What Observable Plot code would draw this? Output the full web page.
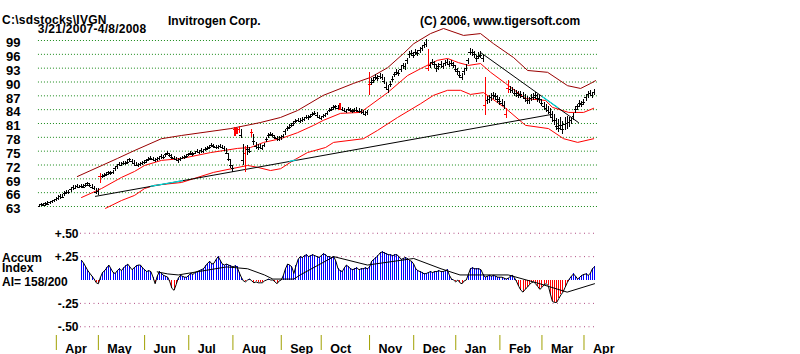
<!DOCTYPE html>
<html><head><meta charset="utf-8">
<script src="https://cdn.jsdelivr.net/npm/d3@7"></script>
<script src="https://cdn.jsdelivr.net/npm/@observablehq/plot@0.6"></script>
<style>
body{margin:0;background:#fff;width:800px;height:354px;overflow:hidden;position:relative;font-family:"Liberation Sans",Arial,sans-serif;}
.t{position:absolute;white-space:pre;font-weight:bold;color:#000;line-height:10px;}
#price,#ai{position:absolute;left:0;}
#price{top:0;}#ai{top:215px;}
</style></head><body>
<div class="t" style="left:2px;top:15.5px;font-size:12px;line-height:9.5px;letter-spacing:0.25px">C:\sdstocks\IVGN
          3/21/2007-4/8/2008</div>
<div class="t" style="left:168px;top:16px;font-size:12px">Invitrogen Corp.</div>
<div class="t" style="left:420px;top:16px;font-size:12px">(C) 2006, www.tigersoft.com</div>
<div class="t" style="left:2px;top:253.3px;font-size:12px;line-height:10px">Accum
Index</div>
<div class="t" style="left:2px;top:276.8px;font-size:12px;line-height:10px">AI= 158/200</div>
<div id="price"></div>
<div id="ai"></div>
<script>
// ---- price bars (one per trading day, 3/21/2007 .. 4/8/2008) ----
const cl = [
63.1,63.4,63.2,63.6,63.5,63.8,64.0,64.3,64.6,64.8,
65.2,65.0,65.8,66.0,66.1,66.6,67.2,67.0,67.3,67.1,
67.4,67.2,67.6,67.9,67.5,67.2,66.8,66.0,66.3,69.6,
69.5,69.8,69.9,70.3,70.1,70.4,71.3,71.6,72.2,72.0,
72.4,72.3,72.6,73.1,72.8,72.4,72.0,71.8,72.1,72.4,
72.6,72.9,73.2,73.5,73.3,73.0,73.2,73.4,73.8,73.6,
74.2,74.6,74.1,73.7,73.5,73.3,72.9,73.2,73.5,73.7,
73.9,74.2,74.5,74.3,74.6,74.9,74.7,75.1,75.0,75.4,
75.6,75.9,76.2,76.0,75.7,75.9,76.1,75.8,75.5,74.6,
73.2,71.8,71.2,79.6,79.2,79.8,78.4,73.0,74.5,75.4,
75.0,79.0,77.0,76.0,75.8,75.9,75.6,76.2,77.6,78.4,
78.6,78.4,78.0,77.7,77.6,77.9,78.2,79.2,79.9,80.2,
80.6,80.9,81.4,81.7,81.5,81.7,81.9,82.3,82.2,82.6,
83.0,83.2,82.8,82.3,82.1,82.6,82.7,83.2,83.8,84.0,
84.4,84.6,84.3,84.0,84.0,83.8,83.6,84.0,83.9,83.6,
83.8,83.9,83.7,83.5,83.4,83.0,83.3,89.5,90.0,90.4,
91.0,90.8,91.2,91.0,90.2,88.9,88.4,89.5,90.6,91.6,
92.1,91.8,92.8,93.5,93.3,94.6,96.0,96.2,95.8,96.4,
96.2,96.8,97.3,97.9,98.2,93.0,93.6,94.2,93.8,93.0,
93.3,93.7,93.4,94.0,94.2,93.8,94.0,93.6,92.8,92.2,
91.4,91.0,92.2,93.0,94.6,96.5,96.4,96.0,95.0,95.6,
95.8,95.0,85.0,86.0,86.2,86.6,87.0,86.8,86.2,85.8,
85.4,84.9,83.0,88.6,88.4,88.2,87.6,87.4,87.1,87.3,
86.9,86.4,86.0,85.9,86.5,86.7,87.0,86.4,86.2,85.4,
84.6,84.2,83.8,83.4,82.3,81.6,80.3,80.0,80.6,79.6,
80.8,81.0,81.2,81.6,82.5,84.0,84.6,85.3,85.2,85.6,
86.6,87.2,87.5,87.1,87.7];
const hi = [
63.5,63.7,63.6,63.9,64.0,64.1,64.4,64.6,65.0,65.3,
65.6,65.5,66.2,66.4,66.5,67.0,67.6,67.5,67.7,67.6,
67.8,67.7,68.0,68.3,68.0,67.7,67.4,66.9,66.8,70.2,
70.0,70.2,70.3,70.6,70.5,70.9,71.6,72.0,72.6,72.5,
72.8,72.7,73.1,73.5,73.2,72.9,72.5,72.3,72.5,72.8,
73.0,73.3,73.6,73.9,73.7,73.5,73.6,73.8,74.2,74.1,
74.6,75.0,74.6,74.2,73.9,73.7,73.4,73.6,73.9,74.1,
74.3,74.6,74.9,74.8,75.0,75.3,75.2,75.5,75.4,75.8,
76.0,76.3,76.6,76.5,76.2,76.3,76.5,76.3,76.0,75.6,
74.6,73.3,72.0,80.2,80.0,80.3,79.8,76.4,76.0,76.2,
75.8,79.6,78.6,76.8,76.4,76.4,76.2,76.7,78.0,78.9,
79.0,78.9,78.5,78.2,78.1,78.3,78.7,79.6,80.3,80.7,
81.1,81.4,81.9,82.1,82.0,82.2,82.3,82.7,82.7,83.0,
83.4,83.6,83.3,82.8,82.6,83.0,83.2,83.6,84.2,84.4,
84.8,85.0,84.8,85.3,84.5,84.3,84.1,84.4,84.3,84.1,
84.2,84.4,84.2,84.0,83.9,83.6,83.8,92.0,90.7,91.0,
91.6,91.4,91.8,91.6,91.0,90.0,89.2,90.1,91.2,92.1,
92.7,92.5,93.4,94.1,94.0,95.2,96.6,96.8,96.5,97.0,
96.9,97.4,97.9,98.5,99.2,97.0,94.3,94.9,94.5,93.8,
94.0,94.4,94.1,94.7,94.9,94.5,94.7,94.3,93.6,93.0,
92.2,91.8,92.8,93.7,95.2,97.2,97.0,96.7,95.8,96.3,
96.6,95.8,91.0,86.8,87.0,87.4,87.8,87.6,87.0,86.6,
86.2,85.7,84.3,90.3,89.1,88.9,88.4,88.1,87.9,88.0,
87.7,87.2,86.8,86.6,87.2,87.4,87.7,87.2,87.0,86.3,
85.5,85.1,84.7,84.3,83.5,83.0,82.0,81.8,82.2,81.5,
82.4,82.6,82.4,82.4,83.1,84.6,85.2,85.9,85.8,86.3,
87.2,87.9,88.2,87.8,88.4];
const lo = [
62.8,62.9,62.9,63.1,63.2,63.4,63.6,63.8,64.1,64.4,
64.6,64.7,65.1,65.5,65.7,66.0,66.5,66.7,66.9,66.8,
66.9,66.9,67.1,67.4,67.2,66.8,66.4,65.6,65.3,67.9,
69.1,69.3,69.5,69.7,69.7,70.0,70.6,71.1,71.6,71.6,
71.9,71.8,72.2,72.5,72.3,72.0,71.6,71.4,71.7,71.9,
72.2,72.4,72.7,73.0,72.9,72.6,72.8,72.9,73.3,73.2,
73.7,74.1,73.7,73.3,73.0,72.8,72.3,72.7,73.1,73.2,
73.5,73.8,74.0,73.9,74.2,74.4,74.3,74.6,74.6,74.9,
75.1,75.4,75.7,75.6,75.3,75.4,75.6,75.4,75.0,74.2,
72.8,71.3,70.4,78.2,78.6,78.8,77.8,72.0,70.3,74.0,
74.4,78.0,76.2,75.4,75.2,75.3,75.1,75.7,76.8,77.8,
78.1,77.9,77.5,77.2,77.1,77.4,77.7,78.5,79.3,79.7,
80.1,80.4,80.9,81.2,81.0,81.2,81.4,81.8,81.7,82.1,
82.5,82.7,82.3,81.8,81.6,82.1,82.2,82.7,83.3,83.5,
83.9,84.1,83.8,83.8,83.5,83.3,83.1,83.5,83.4,83.1,
83.3,83.4,83.2,83.0,82.8,82.5,82.8,87.0,89.2,89.7,
90.3,90.1,90.5,90.3,89.5,88.2,87.6,88.7,89.9,90.9,
91.4,91.1,92.1,92.8,92.6,93.9,95.2,95.5,95.1,95.7,
95.5,96.1,96.6,97.2,97.4,92.2,92.9,93.5,93.0,92.0,
92.6,93.0,92.7,93.3,93.5,93.1,93.3,92.9,92.1,91.4,
90.7,90.4,91.4,92.3,93.8,95.7,95.6,95.2,94.3,94.9,
95.0,94.2,82.8,85.1,85.4,85.8,86.2,86.0,85.4,85.0,
84.6,84.1,82.0,87.5,87.6,87.4,86.9,86.6,86.4,86.5,
86.1,85.6,85.2,85.1,85.7,85.9,86.2,85.6,85.4,84.6,
83.8,83.4,83.0,82.4,81.2,80.6,79.4,79.0,79.4,78.6,
79.5,79.8,80.2,80.8,81.6,83.2,83.8,84.5,84.4,84.9,
85.8,86.5,86.8,86.4,87.0];
const redBars = [29,93,94,95,98,101,143,157,185,212,222,223];

// ---- bands (read at sample days) ----
const upperIdx = [18,37,45,58,67.5,91,105,114.6,122.7,135,149.4,157.5,165.6,173.2,178,186,192.2,201.7,209.8,216,225.5,232.2,241.7,251.2,257.4,262.2,264.5];
const upperVal = [69.5,73.4,75.1,77.7,78.4,79.9,81.2,82.3,83.8,87.1,89.7,91.0,93.1,96.2,98.3,100.5,101.6,100.1,100.5,98.3,95.3,92.5,92.1,89.2,88.6,89.7,90.3];
const midIdx = [20,29.5,39,45.2,50,58,67.5,81.4,94.2,100.4,106.6,114.7,122.7,130.4,135.1,143.2,152.7,156,165.6,175.1,181.3,189.3,194.1,199.3,204.1,209.8,214.6,221.7,231.2,240.7,244,251.7,258.8,263.6];
const midVal = [64.95,66.9,69.3,70.6,71.9,73.0,73.4,74.7,75.6,75.8,76.9,77.7,79.0,80.6,81.7,83.2,83.4,84.5,87.7,91.4,92.9,94.7,95.1,94.2,93.6,94.0,92.1,89.7,86.4,86.0,84.5,83.4,83.4,84.3];
const lowerIdx = [31.4,39,45.2,50,54.7,67.5,82.8,99,103.7,109.9,114.7,120.8,127.5,136.1,139.9,154.1,160.8,170.3,181.3,187.4,194.1,200.3,205,211.2,221.7,231.2,242.1,249.3,256,263.6];
const lowerVal = [62.6,64.3,65.4,66.9,67.6,68.2,70.4,71.9,71.5,70.8,71.2,73.0,74.7,75.8,76.9,77.7,79.5,82.3,85.3,87.1,88.2,88.2,87.3,87.7,84.3,80.6,79.9,77.7,76.9,77.7];

// ---- trend lines ----
const supportIdx = [26.6, 244];   const supportVal = [65.2, 83.0];
const downIdx = [209.8, 256.4];   const downVal = [96.4, 81.2];
const cyanSegs = [
  {idx:[53,68], val:[67.4,68.6]},
  {idx:[119,122], val:[72.8,73.1]},
  {idx:[239.3,246.4], val:[86.8,84.5]}
];

// ---- axes ----
const priceTicks = [63,66,69,72,75,78,81,84,87,90,93,96,99];
const monthIdx = [8,28,50,71,92,115,134,157,178,198,219,239,259];
const monthNames = ["Apr","May","Jun","Jul","Aug","Sep","Oct","Nov","Dec","Jan","Feb","Mar","Apr"];
const aiTicks = [0.5,0.25,-0.25,-0.5];
const aiTickLabels = ["+.50","+.25","-.25","-.50"];

// ---- accumulation index (from day 20) ----
const aiStart = 20;
const aiVals = [
.21,.18,.14,.10,.07,.04,.01,-.03,-.04,.03,
.08,.10,.13,.16,.12,.08,.07,.10,.12,.10,
.13,.15,.17,.14,.11,.13,.15,.16,.16,.13,
.11,.09,.10,.09,.03,-.04,.04,.09,.07,.05,
.04,.03,-.02,-.09,-.11,-.05,.02,.05,.04,.03,
.03,.05,.07,.06,.08,.09,.10,.11,.12,.15,
.18,.20,.17,.18,.22,.25,.21,.17,.16,.17,
.16,.15,.14,.15,.14,.08,.03,-.01,-.02,.00,
.01,-.01,-.03,-.02,-.03,-.03,-.03,-.01,.00,.01,
.00,.00,-.02,-.04,-.01,.00,.05,.12,.17,.16,
.14,.07,.15,.22,.25,.24,.26,.27,.25,.26,
.27,.26,.25,.24,.26,.28,.27,.25,.25,.24,
.25,.20,.12,.10,.09,.13,.16,.14,.12,.11,
.12,.13,.11,.12,.12,.13,.12,.14,.20,.22,
.24,.26,.29,.30,.29,.28,.27,.27,.26,.27,
.27,.25,.22,.23,.24,.23,.21,.20,.17,.12,
.10,.09,.08,.065,.07,.08,.09,.08,.09,.09,
.10,.09,.09,.10,.11,.05,.01,.00,-.02,.00,
-.03,-.04,-.01,.00,.06,.12,.13,.12,.12,.12,
.11,.06,.03,.04,.05,.04,.05,.04,.03,.03,
.03,.02,.01,.02,.04,.05,.02,-.02,-.07,-.11,
-.13,-.10,-.08,-.05,-.03,-.02,-.04,-.07,-.10,-.08,
-.05,-.04,-.06,-.15,-.23,-.24,-.24,-.20,-.16,-.13,
-.08,-.03,.01,.04,.065,.04,.01,.03,.05,.06,
.065,.05,.07,.12,.14];
const aiMaIdx = [56,61,66,89,99,107,111,121,124,140,156,178,191,200,223,238,251,264];
const aiMaVal = [0.087,0.065,0.054,0.14,0.12,0.054,0.01,0.01,0.054,0.25,0.16,0.23,0.12,0.054,0.054,-0.04,-0.13,-0.04];

// ---- build tables ----
const bars = cl.map((c,i) => ({i, cl:c, hi:hi[i], lo:lo[i], red: redBars.includes(i)}));
const blackBars = bars.filter(d => !d.red), rBars = bars.filter(d => d.red);
const pts = (ix, vs) => ix.map((x,k) => ({i:x, p:vs[k]}));
const upper = pts(upperIdx, upperVal), mid = pts(midIdx, midVal), lower = pts(lowerIdx, lowerVal);
const support = pts(supportIdx, supportVal), down = pts(downIdx, downVal);
const ai = aiVals.map((v,k) => ({i: aiStart + k, v}));
const aiMa = aiMaIdx.map((x,k) => ({i:x, v:aiMaVal[k]}));

const xDomain = [0, 264], xRange = [39, 594];
const font = {fontFamily:"Liberation Sans, Arial, sans-serif", fontWeight:"bold"};

const price = Plot.plot({
  width: 800, height: 215, marginLeft: 39, marginRight: 0, marginTop: 0, marginBottom: 0,
  x: {domain: xDomain, range: xRange, axis: null},
  y: {domain: [63, 99], range: [206, 40], axis: null},
  style: {background: "transparent", overflow: "visible"},
  marks: [
    Plot.ruleY(priceTicks, {y: d => d, x1: -0.5, x2: 265.5, stroke: "#1a8a1a", strokeDasharray: "1,2"}),
    Plot.text(priceTicks, {y: d => d, text: d => String(d), frameAnchor: "left", dx: -19, dy: 2.5, textAnchor: "end", fontSize: 13, ...font, fill: "black"}),
    Plot.line(upper, {x: "i", y: "p", stroke: "#990000", strokeWidth: 1}),
    Plot.line(mid, {x: "i", y: "p", stroke: "#ff0000", strokeWidth: 1}),
    Plot.line(lower, {x: "i", y: "p", stroke: "#ff0000", strokeWidth: 1}),
    Plot.line(support, {x: "i", y: "p", stroke: "black", strokeWidth: 1}),
    Plot.line(down, {x: "i", y: "p", stroke: "black", strokeWidth: 1}),
    ...cyanSegs.map(s => Plot.line(pts(s.idx, s.val), {x: "i", y: "p", stroke: "#00e0e0", strokeWidth: 1.2, strokeDasharray: "2,1"})),
    Plot.ruleX(blackBars, {x: "i", y1: "lo", y2: "hi", stroke: "black", strokeWidth: 1, shapeRendering: "crispEdges"}),
    Plot.ruleY(blackBars, {y: "cl", x1: d => d.i - 0.7, x2: d => d.i + 0.7, stroke: "black", strokeWidth: 1, shapeRendering: "crispEdges"}),
    Plot.ruleX(rBars, {x: "i", y1: "lo", y2: "hi", stroke: "red", strokeWidth: 1.3, shapeRendering: "crispEdges"}),
    Plot.ruleY(rBars, {y: "cl", x1: d => d.i - 0.7, x2: d => d.i + 0.7, stroke: "red", strokeWidth: 1, shapeRendering: "crispEdges"})
  ]
});
document.getElementById("price").appendChild(price);

const aiPlot = Plot.plot({
  width: 800, height: 139, marginLeft: 80, marginRight: 0, marginTop: 0, marginBottom: 19,
  x: {domain: xDomain, range: xRange, axis: null},
  y: {domain: [-0.5, 0.5], range: [111.25, 17.75], axis: null},
  style: {background: "transparent", overflow: "visible"},
  marks: [
    Plot.ruleY(aiTicks, {y: d => d, x1: 19.5, x2: 265.5, stroke: "#b04a80", strokeDasharray: "1,3.5"}),
    Plot.text(aiTicks, {y: d => d, text: (d, k) => aiTickLabels[k], frameAnchor: "left", dx: -2, dy: 0.5, textAnchor: "end", fontSize: 12, ...font, fill: "black"}),
    Plot.ruleX(ai.filter(d => d.v >= 0), {x: "i", y1: 0, y2: "v", stroke: "#0000ff", strokeWidth: 1, shapeRendering: "crispEdges"}),
    Plot.ruleX(ai.filter(d => d.v < 0), {x: "i", y1: 0, y2: "v", stroke: "#ff0000", strokeWidth: 1, shapeRendering: "crispEdges"}),
    Plot.line(ai, {x: "i", y: "v", stroke: "black", strokeWidth: 1}),
    Plot.line(aiMa, {x: "i", y: "v", stroke: "black", strokeWidth: 1}),
    Plot.axisX(monthIdx, {tickSize: 15, tickFormat: () => "", stroke: "#a0a000", label: null}),
    Plot.text(monthIdx, {x: d => d, text: (d, k) => monthNames[k], frameAnchor: "bottom", dx: 9, dy: 17, textAnchor: "start", lineAnchor: "bottom", fontSize: 12.5, ...font, fill: "black"})
  ]
});
document.getElementById("ai").appendChild(aiPlot);
</script>
</body></html>
